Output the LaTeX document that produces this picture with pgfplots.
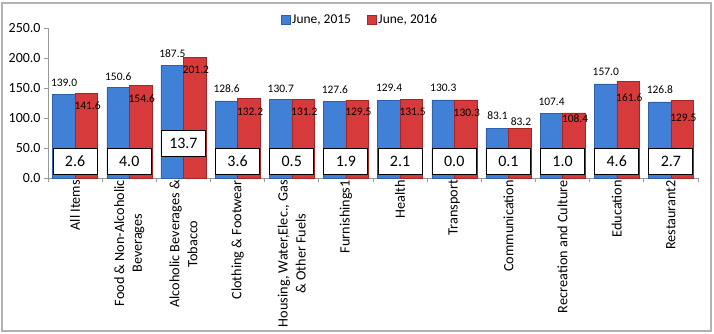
\documentclass[border=0pt]{standalone}
\usepackage{pgfplots}
\pgfplotsset{compat=1.18}
\usepackage{pgfplotstable}
\usepackage{fontspec}
\setmainfont{Carlito}

\definecolor{bmain}{RGB}{64,128,214}
\definecolor{bdark}{RGB}{45,95,170}
\definecolor{rmain}{RGB}{214,58,58}
\definecolor{rdark}{RGB}{165,38,38}

\pgfplotstableread{
x y off
0 139.0 12
1 150.6 11
2 187.5 12
3 128.6 12
4 130.7 11
5 127.6 12
6 129.4 13
7 130.3 12
8 83.1 13
9 107.4 12
10 157.0 12.5
11 126.8 12.5
}\tblA

\pgfplotstableread{
x y off
0 141.6 -13
1 154.6 -13
2 201.2 -12.6
3 132.2 -13
4 131.2 -12.6
5 129.5 -11.7
6 131.5 -13
7 130.3 -13
8 83.2 6
9 108.4 -6
10 161.6 -17
11 129.5 -17.7
}\tblB

\pgfplotstableread{
x y b
0 28 2.6
1 28 4.0
2 57.5 13.7
3 28 3.6
4 28 0.5
5 28 1.9
6 28 2.1
7 28 0.0
8 28 0.1
9 28 1.0
10 28 4.6
11 28 2.7
}\tblC

\begin{document}
\begin{tikzpicture}
\useasboundingbox (0bp,0bp) rectangle (714bp,334bp);
\draw[gray!60, line width=1.2bp] (2bp,3bp) rectangle (711bp,331bp);
\begin{axis}[
  at={(48bp,156bp)}, anchor=south west,
  scale only axis, width=650bp, height=150bp,
  xmin=-0.5, xmax=11.5, ymin=0, ymax=250,
  axis x line*=bottom, axis y line*=left,
  axis line style={draw=gray!80, line width=0.8bp},
  tick style={draw=gray!80, line width=0.8bp},
  tick align=outside, major tick length=4bp,
  ytick={0,50,...,250},
  yticklabel style={/pgf/number format/.cd, fixed, fixed zerofill, precision=1, /pgf/number format/assume math mode=true},
  tick label style={font=\fontsize{14}{16}\selectfont},
  xtick={-0.5,0.5,...,11.5},
  xticklabels={},
  extra x ticks={0,...,11},
  extra x tick labels={All Items, {Food \& Non-Alcoholic\\Beverages}, {Alcoholic Beverages \&\\Tobacco}, Clothing \& Footwear, {Housing, Water,Elec., Gas\\\& Other Fuels}, Furnishings1, Health, Transport, Communication, Recreation and Culture, Education, Restaurant2},
  extra x tick style={major tick length=0pt, tick label style={rotate=90, anchor=east, align=center, font=\fontsize{14.3}{18}\selectfont, inner sep=2bp}},
  legend style={at={(0.48,1.053)}, anchor=center, draw=none, fill=none, legend columns=2, font=\fontsize{13.5}{16}\selectfont, /tikz/every even column/.append style={column sep=14bp}},
  legend image code/.code={\draw[#1, line width=0.5bp] (0bp,-4.5bp) rectangle (9bp,4.5bp);},
  clip=false,
]
\addplot[ybar, bar width=22.5bp, bar shift=-11.25bp, draw=bdark, line width=0.5bp, fill=bmain,
  nodes near coords, point meta=explicit symbolic,
  visualization depends on={\thisrow{off} \as \myoff},
  every node near coord/.append style={anchor=center, xshift=-11bp, yshift=\myoff pt, font=\fontsize{11.5}{13}\selectfont, text=black}]
  table[x=x, y=y, meta=y] {\tblA};
\addlegendentry{June, 2015}
\addplot[ybar, bar width=22.5bp, bar shift=11.25bp, draw=rdark, line width=0.5bp, fill=rmain,
  nodes near coords, point meta=explicit symbolic,
  visualization depends on={\thisrow{off} \as \myoff},
  every node near coord/.append style={anchor=center, xshift=12.5bp, yshift=\myoff pt, font=\fontsize{11.5}{13}\selectfont, text=black}]
  table[x=x, y=y, meta=y] {\tblB};
\addlegendentry{June, 2016}
\addplot[draw=none, mark=none, forget plot,
  nodes near coords, point meta=explicit symbolic,
  every node near coord/.append style={anchor=center, draw=black, fill=white, line width=1.1bp, minimum width=44bp, minimum height=26bp, inner sep=0pt, font=\fontsize{16}{18}\selectfont, text=black}]
  table[x=x, y=y, meta=b] {\tblC};
\end{axis}
\end{tikzpicture}
\end{document}
